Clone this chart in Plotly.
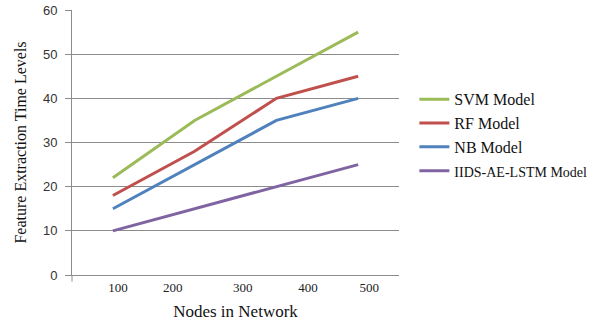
import plotly.graph_objects as go

# Category positions (4 measured groups) and tick labels
categories = [1, 2, 3, 4]
tick_labels = ["100", "200", "300", "400", "500"]

svm = [22, 35, 45, 55]
rf = [18, 28, 40, 45]
nb = [15, 25, 35, 40]
iids = [10, 15, 20, 25]

names = ["SVM Model", "RF Model", "NB Model",
         "<span style='font-size:14px'>IIDS-AE-LSTM Model</span>"]
series = [svm, rf, nb, iids]
colors = ["#9BBB59", "#C0504D", "#4F81BD", "#8064A2"]

fig = go.Figure()
for nm, ys, c in zip(names, series, colors):
    fig.add_trace(go.Scatter(x=categories, y=ys, mode="lines", name=nm,
                             line=dict(color=c, width=3)))

serif = "Liberation Serif"
fig.update_layout(
    template="none",
    width=602, height=326,
    margin=dict(l=72, r=189, t=10, b=51, pad=0),
    paper_bgcolor="white", plot_bgcolor="white",
    showlegend=True,
    legend=dict(x=1.047, y=0.727, xanchor="left", yanchor="top",
                font=dict(family=serif, size=16, color="#111"),
                itemwidth=30, tracegroupgap=0, bgcolor="rgba(0,0,0,0)", borderwidth=0),
    xaxis=dict(range=[0.5, 4.5], tickmode="array",
               tickvals=[1.063, 1.732, 2.588, 3.386, 4.136],
               ticktext=tick_labels, ticks="", showgrid=False, automargin=False,
               showline=True, linecolor="#8c8c8c", linewidth=1,
               tickfont=dict(family=serif, size=13, color="#222"),
               title=dict(text="Nodes in Network", font=dict(family=serif, size=17, color="#111"),
                          standoff=11),
               zeroline=False),
    yaxis=dict(range=[0, 60], dtick=10, showgrid=True, gridcolor="#8c8c8c", gridwidth=1,
               showline=True, linecolor="#8c8c8c", linewidth=1, automargin=False,
               ticks="outside", ticklen=6, tickcolor="#8c8c8c", ticklabelstandoff=5,
               tickfont=dict(family="Liberation Sans", size=13, color="#333"),
               title=dict(text="Feature Extraction Time Levels",
                          font=dict(family=serif, size=16, color="#111"), standoff=12),
               zeroline=False),
)
# small tick below the axis corner
fig.add_shape(type="line", xref="paper", yref="paper", x0=0, x1=0, y0=0, y1=-0.025,
              line=dict(color="#8c8c8c", width=1))

fig.write_html("out.html", config={"displayModeBar": False},
               post_script="document.body.style.margin='0';")
